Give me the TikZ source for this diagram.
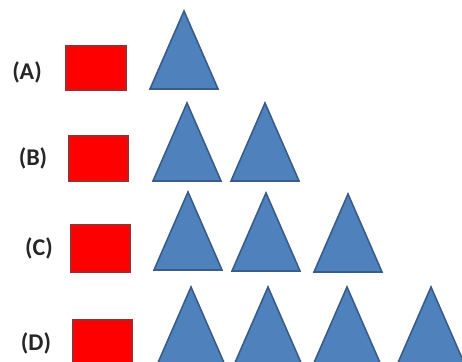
\documentclass[tikz,border=0pt]{standalone}
\usepackage{fontspec}
\setmainfont{Carlito}
\definecolor{triblue}{RGB}{79,129,189}
\definecolor{triedge}{RGB}{56,93,138}
\definecolor{boxedge}{RGB}{170,40,40}
\begin{document}
\begin{tikzpicture}[x=1pt,y=1pt,
  tri/.pic={\draw[fill=triblue,draw=triedge,line width=1.6pt,line join=miter] (-34,0)--(34,0)--(0,78)--cycle;},
  redbox/.style={fill=red,draw=boxedge,line width=1.4pt},
  lab/.style={font=\bfseries\fontsize{24}{28}\selectfont,text=black!85,inner sep=0pt}]
\useasboundingbox (0,0) rectangle (462,361);
\begin{scope}
\clip (0,0) rectangle (462,361);
% row A
\node[lab] (la) at (27,289) {(A)};
\draw[redbox] (66,271) rectangle (126,315);
\pic at (184,272) {tri};
% row B
\node[lab] (lb) at (33,203) {(B)};
\draw[redbox] (69,180) rectangle (128,225);
\pic at (187,180) {tri};
\pic at (265,180) {tri};
% row C
\node[lab] (lc) at (39,113) {(C)};
\draw[redbox] (71,89) rectangle (130,136);
\pic at (188,91) {tri};
\pic at (266,90) {tri};
\pic at (348,89) {tri};
% row D
\node[lab] (ld) at (36,18) {(D)};
\draw[redbox] (73,-5) rectangle (132,41);
\pic at (191,-4) {tri};
\pic at (268,-4) {tri};
\pic at (347,-4) {tri};
\pic at (431,-4) {tri};
\end{scope}
\end{tikzpicture}
\end{document}
